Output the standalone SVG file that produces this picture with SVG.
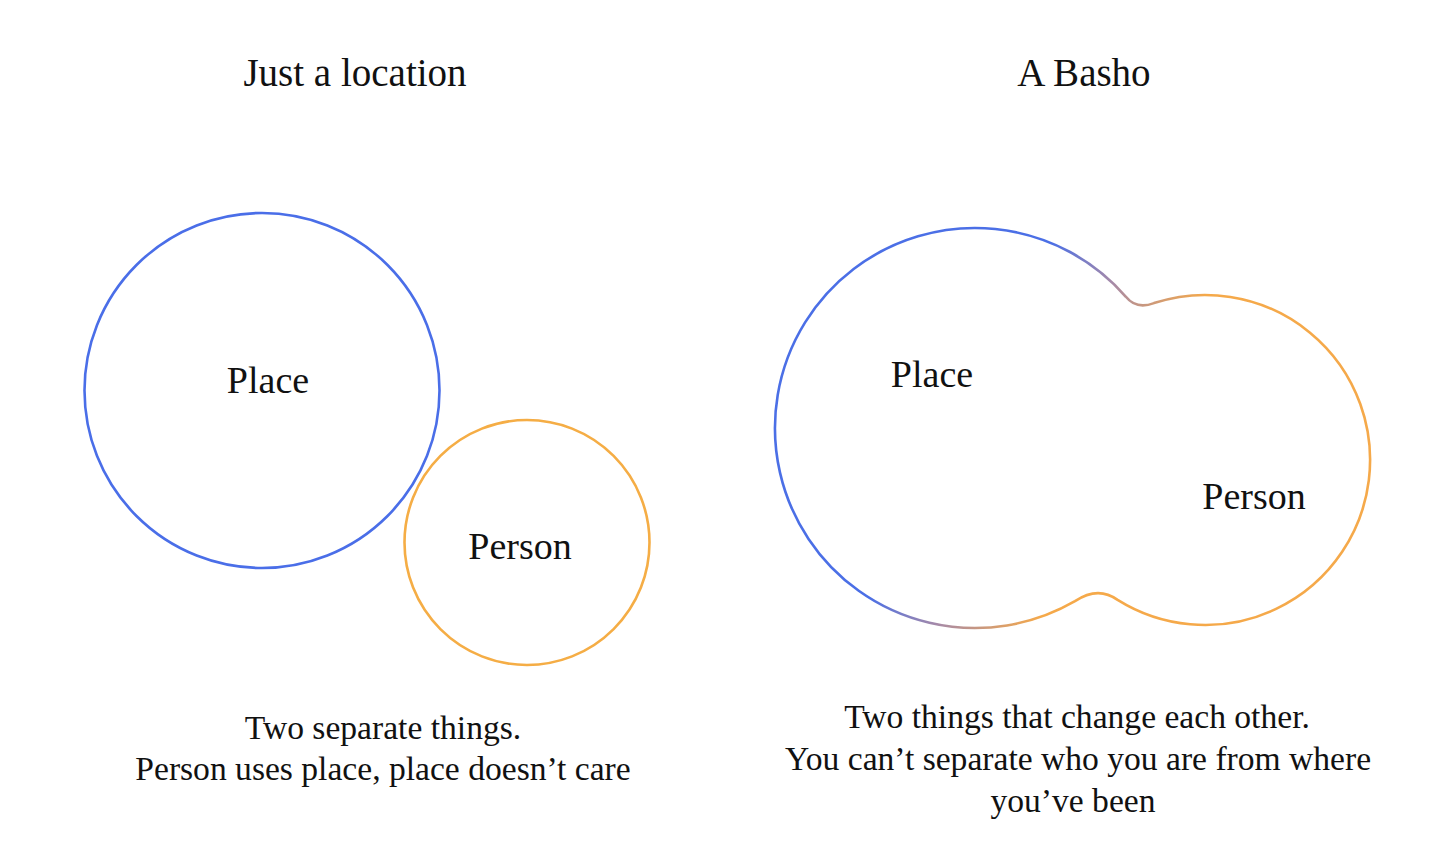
<svg xmlns="http://www.w3.org/2000/svg" width="1456" height="865" viewBox="0 0 1456 865">
<style>
text{font-family:"Liberation Serif","DejaVu Serif",serif;fill:#111;text-anchor:middle}
.t{font-size:39px}
.l{font-size:38px}
.c{font-size:33.6px}
.s{fill:none;stroke-width:2.6;stroke-linecap:round}
</style>
<defs>
<linearGradient id="g" gradientUnits="userSpaceOnUse" x1="930" y1="478" x2="1075" y2="552">
<stop offset="0" stop-color="#4b6fe6"/>
<stop offset="0.45" stop-color="#a68aa8"/>
<stop offset="1" stop-color="#f5a94a"/>
</linearGradient>
</defs>
<rect width="1456" height="865" fill="#fff"/>
<text class="t" x="355" y="86">Just a location</text>
<text class="t" x="1084" y="86">A Basho</text>
<g id="place-left">
<circle class="s" cx="262" cy="390.5" r="177.5" stroke="#4a6ee8"/>
<text class="l" x="268" y="393">Place</text>
</g>
<g id="person-left">
<circle class="s" cx="527" cy="542.5" r="122.5" stroke="#f5ad45"/>
<text class="l" x="520" y="559">Person</text>
</g>
<g id="basho">
<path class="s" stroke="url(#g)" d="M1125.9,296.8 Q1136.4,309.9 1154,303.1 A165,165 0 1 1 1117.6,599.9 Q1098,585.7 1075,601.2 A200,200 0 1 1 1125.9,296.8 Z"/>
<text class="l" x="932" y="387">Place</text>
<text class="l" x="1254" y="509">Person</text>
</g>
<g id="captions">
<text class="c" x="383" y="739">Two separate things.</text>
<text class="c" x="383" y="780">Person uses place, place doesn’t care</text>
<text class="c" x="1077" y="728">Two things that change each other.</text>
<text class="c" x="1078" y="770">You can’t separate who you are from where</text>
<text class="c" x="1073" y="812">you’ve been</text>
</g>
</svg>
